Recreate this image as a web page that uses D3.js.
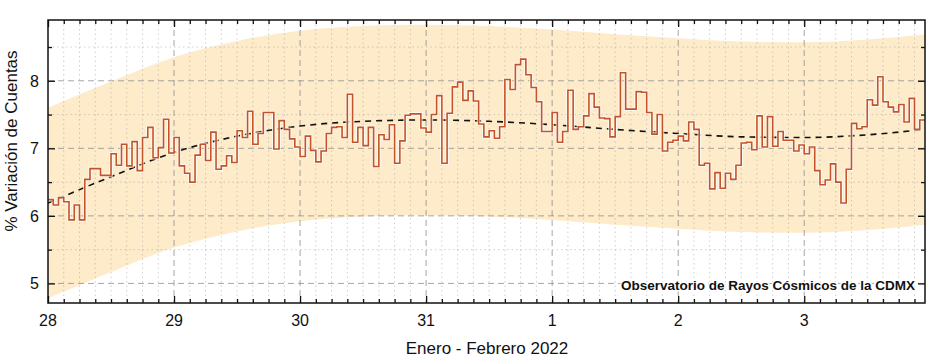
<!DOCTYPE html>
<html lang="es">
<head>
  <meta charset="UTF-8">
  <title>Observatorio de Rayos Cósmicos de la CDMX</title>
  <style>
    body { margin: 0; background: #fff; }
    text { font-family: "Liberation Sans", Arial, sans-serif; fill: #111; }
    .grid-major { stroke: #888; stroke-opacity: 0.75; stroke-dasharray: 6,4; }
    .grid-minor { stroke: #aaa; stroke-opacity: 0.55; stroke-dasharray: 1.5,3; }
  </style>
  <script src="https://cdn.jsdelivr.net/npm/d3@7"></script>
</head>
<body>

<div id="chart"></div>

<script>
  // hourly % variation of counts, from 28 Jan 00h
  var counts = [
    6.24, 6.16, 6.27, 6.21, 5.94, 6.16, 5.94, 6.54, 6.70, 6.70, 6.60, 6.60,
    6.92, 6.75, 7.06, 6.74, 7.10, 6.67, 7.16, 7.31, 6.86, 7.01, 7.43, 6.93,
    7.16, 6.74, 6.63, 6.50, 6.90, 7.06, 6.82, 7.24, 6.69, 6.74, 6.89, 6.79,
    7.26, 7.16, 7.55, 7.06, 7.22, 7.53, 7.53, 6.99, 7.41, 7.28, 7.14, 7.02,
    6.88, 7.18, 6.97, 6.80, 6.96, 7.22, 7.31, 7.32, 7.16, 7.80, 7.09, 7.31,
    7.04, 7.31, 6.73, 7.20, 7.13, 7.35, 6.78, 7.11, 7.49, 7.51, 7.51, 7.30,
    7.24, 7.50, 7.78, 6.78, 7.52, 7.91, 7.98, 7.71, 7.85, 7.70, 7.36, 7.17,
    7.26, 7.15, 7.32, 8.02, 7.87, 8.24, 8.32, 8.09, 7.90, 7.69, 7.25, 7.25,
    7.53, 7.09, 7.25, 7.86, 7.28, 7.32, 7.48, 7.81, 7.61, 7.45, 7.44, 7.17,
    7.47, 8.12, 7.58, 7.58, 7.84, 7.83, 7.53, 7.21, 7.50, 6.96, 7.09, 7.12,
    7.18, 7.11, 7.39, 7.28, 6.75, 6.78, 6.40, 6.64, 6.41, 6.63, 6.54, 6.75,
    7.08, 7.09, 6.98, 7.48, 7.02, 7.47, 7.03, 7.25, 7.12, 7.12, 6.96, 7.05,
    6.92, 7.02, 6.67, 6.46, 6.53, 6.77, 6.50, 6.19, 6.69, 7.37, 7.29, 7.32,
    7.72, 7.64, 8.06, 7.69, 7.61, 7.54, 7.65, 7.39, 7.74, 7.28, 7.42
  ];

  // smooth trend and its band, sampled every 12 hours
  var trendHours = [0, 12, 24, 36, 48, 60, 72, 84, 96, 108, 120, 132, 144, 156, 167];
  var trendValues = [6.19, 6.58, 6.94, 7.18, 7.33, 7.40, 7.42, 7.40, 7.35, 7.28, 7.22, 7.17, 7.16, 7.20, 7.28];
  var bandUpper = [7.60, 7.99, 8.35, 8.59, 8.74, 8.81, 8.83, 8.81, 8.76, 8.69, 8.63, 8.58, 8.57, 8.61, 8.69];
  var bandLower = [4.78, 5.17, 5.53, 5.77, 5.92, 5.99, 6.01, 5.99, 5.94, 5.87, 5.81, 5.76, 5.75, 5.79, 5.87];

  var dayLabels = ["28", "29", "30", "31", "1", "2", "3"];
  var yTicks = [5, 6, 7, 8];
  var yMinorTicks = [5.5, 6.5, 7.5, 8.5];

  var width = 937;
  var height = 359;
  var margin = { top: 20, right: 12, bottom: 56, left: 48 };
  var plotW = width - margin.left - margin.right;
  var plotH = height - margin.top - margin.bottom;

  var svg = d3.select("#chart").append("svg")
    .attr("width", width)
    .attr("height", height);

  var g = svg.append("g")
    .attr("transform", "translate(" + margin.left + "," + margin.top + ")");

  var x = d3.scaleLinear().domain([0, 167]).range([0, plotW]);
  var y = d3.scaleLinear().domain([4.71, 8.90]).range([plotH, 0]);

  var dayHours = dayLabels.map((d, i) => i * 24);
  var minorHours = d3.range(0, 168, 3).filter(h => h % 24 !== 0);

  g.append("clipPath").attr("id", "clip")
    .append("rect").attr("width", plotW).attr("height", plotH);

  // band
  var bandData = trendHours.map((h, i) => ({ h: h, lo: bandLower[i], hi: bandUpper[i] }));
  g.append("path")
    .datum(bandData)
    .attr("clip-path", "url(#clip)")
    .attr("fill", "#fdebc9")
    .attr("d", d3.area()
      .x(d => x(d.h))
      .y0(d => y(d.lo))
      .y1(d => y(d.hi))
      .curve(d3.curveMonotoneX));

  // grid
  var grid = g.append("g");
  grid.selectAll(".vminor").data(minorHours).enter().append("line")
    .attr("class", "grid-minor")
    .attr("x1", d => x(d)).attr("x2", d => x(d))
    .attr("y1", 0).attr("y2", plotH);
  grid.selectAll(".hminor").data(yMinorTicks).enter().append("line")
    .attr("class", "grid-minor")
    .attr("x1", 0).attr("x2", plotW)
    .attr("y1", d => y(d)).attr("y2", d => y(d));
  grid.selectAll(".vmajor").data(dayHours.slice(1)).enter().append("line")
    .attr("class", "grid-major")
    .attr("x1", d => x(d)).attr("x2", d => x(d))
    .attr("y1", 0).attr("y2", plotH);
  grid.selectAll(".hmajor").data(yTicks).enter().append("line")
    .attr("class", "grid-major")
    .attr("x1", 0).attr("x2", plotW)
    .attr("y1", d => y(d)).attr("y2", d => y(d));

  // trend line
  g.append("path")
    .datum(trendHours.map((h, i) => [h, trendValues[i]]))
    .attr("fill", "none")
    .attr("stroke", "#111")
    .attr("stroke-width", 1.6)
    .attr("stroke-dasharray", "6,5")
    .attr("d", d3.line().x(d => x(d[0])).y(d => y(d[1])).curve(d3.curveMonotoneX));

  // hourly steps
  var stepData = counts.map((v, i) => [i, v]);
  stepData.push([counts.length, counts[counts.length - 1]]);
  var stepLine = d3.line().x(d => x(d[0])).y(d => y(d[1])).curve(d3.curveStepAfter);
  g.append("path")
    .datum(stepData)
    .attr("clip-path", "url(#clip)")
    .attr("fill", "none")
    .attr("stroke", "#fff")
    .attr("stroke-opacity", 0.7)
    .attr("stroke-width", 3.6)
    .attr("d", stepLine);
  g.append("path")
    .datum(stepData)
    .attr("clip-path", "url(#clip)")
    .attr("fill", "none")
    .attr("stroke", "#c4532c")
    .attr("stroke-width", 1.6)
    .attr("d", stepLine);

  // axes with inside ticks on all four sides
  function noLabels(axis) { return axis.tickFormat(""); }
  var axes = [
    { gen: d3.axisBottom, sc: x, tr: [0, plotH], vals: dayHours, size: -7 },
    { gen: d3.axisBottom, sc: x, tr: [0, plotH], vals: minorHours, size: -4 },
    { gen: d3.axisTop, sc: x, tr: [0, 0], vals: dayHours, size: -7 },
    { gen: d3.axisTop, sc: x, tr: [0, 0], vals: minorHours, size: -4 },
    { gen: d3.axisLeft, sc: y, tr: [0, 0], vals: yTicks, size: -7 },
    { gen: d3.axisLeft, sc: y, tr: [0, 0], vals: yMinorTicks, size: -4 },
    { gen: d3.axisRight, sc: y, tr: [plotW, 0], vals: yTicks, size: -7 },
    { gen: d3.axisRight, sc: y, tr: [plotW, 0], vals: yMinorTicks, size: -4 }
  ];
  axes.forEach(a => {
    g.append("g")
      .attr("transform", "translate(" + a.tr[0] + "," + a.tr[1] + ")")
      .call(noLabels(a.gen(a.sc).tickValues(a.vals).tickSize(a.size)))
      .call(s => s.select(".domain").remove())
      .call(s => s.selectAll("line").attr("stroke", "#111").attr("stroke-width", 1.3));
  });

  g.append("rect")
    .attr("width", plotW).attr("height", plotH)
    .attr("fill", "none").attr("stroke", "#111").attr("stroke-width", 1.5);

  // tick labels
  g.selectAll(".xlab").data(dayLabels).enter().append("text")
    .attr("x", (d, i) => x(dayHours[i]))
    .attr("y", plotH + 23)
    .attr("text-anchor", "middle")
    .style("font-size", "16px")
    .text(d => d);
  g.selectAll(".ylab").data(yTicks).enter().append("text")
    .attr("x", -9)
    .attr("y", d => y(d) + 6)
    .attr("text-anchor", "end")
    .style("font-size", "16px")
    .text(d => d);

  // titles
  svg.append("text")
    .attr("x", 487).attr("y", 354)
    .attr("text-anchor", "middle")
    .style("font-size", "17px")
    .text("Enero - Febrero 2022");
  svg.append("text")
    .attr("transform", "translate(17,141) rotate(-90)")
    .attr("text-anchor", "middle")
    .style("font-size", "17px")
    .text("% Variación de Cuentas");

  svg.append("text")
    .attr("x", 915).attr("y", 289.5)
    .attr("text-anchor", "end")
    .style("font-size", "13.5px")
    .style("font-weight", "bold")
    .attr("stroke", "#fff").attr("stroke-width", 3)
    .attr("paint-order", "stroke")
    .text("Observatorio de Rayos Cósmicos de la CDMX");
</script>

</body>
</html>
